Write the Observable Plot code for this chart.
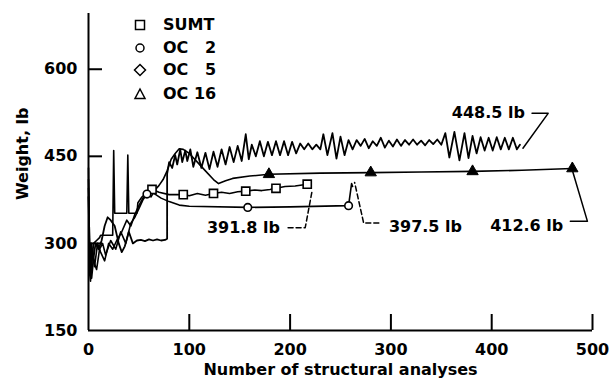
<!DOCTYPE html>
<html><head><meta charset="utf-8">
<script src="https://cdn.jsdelivr.net/npm/d3@7"></script>
<script src="https://cdn.jsdelivr.net/npm/@observablehq/plot@0.6"></script>
<style>
html,body{margin:0;padding:0;background:#fff;}
#chart{position:relative;width:611px;height:382px;overflow:hidden;font-family:"DejaVu Sans",sans-serif;font-weight:bold;font-size:16px;color:#000;}
#legend{position:absolute;left:128px;top:0;}
.row{position:absolute;left:0;height:22px;line-height:22px;white-space:pre;}
.row svg{position:absolute;left:4px;top:3px;}
.row span{position:absolute;left:35px;top:0;}
</style></head>
<body>
<div id="chart"><div id="legend"></div></div>
<script>
// ---- data ----
const seriesNames = ["SUMT", "OC \u20072", "OC \u20075", "OC 16"];
const xTicks = [0, 100, 200, 300, 400, 500];
const yTicks = [150, 300, 450, 600];

const sumt = [[0,395],[1,280],[2,300],[3,260],[5,300],[8,305],[11,310],[12,314],[24,314],[25,460],[26,352],[36,352],[38,352],[39,452],[40,352],[48,352],[49,370],[53,380],[58,388],[63,393],[70,388],[80,384],[94,384],[100,382],[108,386],[116,383],[124,386],[132,388],[140,386],[148,389],[156,390],[165,392],[172,391],[180,393],[186,395],[195,398],[205,399],[217,402]];
const sumtMarks = [63,94,124,156,186,217];

const oc2 = [[0,410],[1,300],[2,245],[4,290],[6,260],[9,300],[12,285],[16,270],[20,300],[24,290],[28,305],[33,320],[38,340],[42,330],[46,350],[50,365],[54,378],[58,385],[62,388],[66,385],[72,378],[80,372],[90,366],[100,364],[158,362],[200,363],[258,365],[261,403],[262,398]];
const oc2Marks = [58,158,258];

const oc5 = [[0,380],[1,300],[2,255],[3,240],[5,275],[7,300],[10,290],[13,305],[16,330],[19,345],[22,340],[26,330],[30,300],[33,285],[36,295],[40,320],[44,300],[48,305],[52,306],[56,304],[60,307],[64,305],[68,307],[72,305],[76,306],[78,308],
[78,420],[80,440],[83,430],[86,452],[88,436],[91,462],[93,440],[96,460],[98,442],[101,462],[104,432],[108,457],[112,430],[116,456],[120,428],[124,458],[128,432],[132,462],[136,436],[140,466],[144,440],[148,468],[152,442],[156,488],[159,445],[162,470],[166,450],[170,476],[174,450],[178,475],[182,452],[186,476],[190,452],[194,476],[198,452],[202,475],[206,455],[210,472],[214,462],[218,472],[222,462],[226,470],[230,462],[233,488],[237,452],[242,490],[246,446],[250,484],[254,452],[258,478],[262,462],[266,478],[270,468],[274,480],[278,464],[282,476],[286,468],[290,482],[294,465],[298,477],[302,467],[306,479],[310,468],[314,478],[318,470],[322,479],[326,470],[330,477],[334,469],[338,478],[342,471],[346,479],[350,470],[354,490],[358,448],[363,492],[368,443],[373,490],[377,447],[381,485],[385,455],[389,483],[393,460],[397,482],[401,460],[405,483],[409,462],[413,482],[417,462],[421,482],[425,462],[428,470]];

const oc16 = [[0,430],[1,250],[2,235],[3,300],[5,270],[8,255],[11,290],[14,300],[17,280],[22,305],[27,290],[32,320],[37,300],[42,335],[46,345],[50,360],[54,375],[58,385],[62,380],[66,392],[70,400],[74,410],[78,425],[82,445],[86,455],[90,463],[94,462],[100,455],[108,440],[116,425],[124,410],[129,403],[136,408],[143,412],[160,416],[179,419],[230,421],[280,422],[330,423],[381,424],[430,426],[480,429]];
const oc16Marks = [179,280,381,480];

const noteText = ["391.8 lb", "397.5 lb", "412.6 lb", "448.5 lb"];
const noteX = [190, 298, 471, 433];
const noteY = [326, 328, 331, 524];
const noteAnchor = ["end", "start", "end", "end"];
const leaders = [
  [[198,327],[215,327],[222,392]],
  [[288,335],[273,335],[264,405]],
  [[478,338],[495,338],[480,426]],
  [[440,524],[456,524],[431,464]]
];
const leaderDash = ["5,3", "5,3", null, null];

// ---- chart ----
const X = d => d[0], Y = d => d[1];
const pick = (arr, xs) => arr.filter(d => xs.includes(d[0]));
const notes = noteText.map((t, i) => ({t, x: noteX[i], y: noteY[i], a: noteAnchor[i]}));

const marks = [
  Plot.ruleX([0], {strokeWidth: 2}),
  Plot.ruleY([150], {strokeWidth: 2}),
  Plot.axisX({ticks: xTicks.slice(1), tickSize: 16, dy: -16, tickFormat: () => "", strokeWidth: 2, label: null}),
  Plot.axisX({ticks: xTicks, tickSize: 0, tickPadding: 13, label: null}),
  Plot.axisY({ticks: yTicks.slice(1), tickSize: 14, dx: 14, tickFormat: () => "", strokeWidth: 2, label: null}),
  Plot.axisY({ticks: yTicks, tickSize: 0, tickPadding: 11, label: null}),
  Plot.text(["Number of structural analyses"], {frameAnchor: "bottom", dy: 44, fontSize: 16}),
  Plot.text(["Weight, lb"], {frameAnchor: "left", rotate: -90, dx: -66, dy: 28, fontSize: 16}),
  Plot.line(oc16, {x: X, y: Y, strokeWidth: 1.6}),
  Plot.line(oc2, {x: X, y: Y, strokeWidth: 1.6}),
  Plot.line(sumt, {x: X, y: Y, strokeWidth: 1.6}),
  Plot.line(oc5, {x: X, y: Y, strokeWidth: 1.8}),
  Plot.dot(pick(sumt, sumtMarks), {x: X, y: Y, symbol: "square", r: 4.6, fill: "white", stroke: "black", strokeWidth: 1.6}),
  Plot.dot(pick(oc2, oc2Marks), {x: X, y: Y, symbol: "circle", r: 3.8, fill: "white", stroke: "black", strokeWidth: 1.6}),
  Plot.dot(pick(oc16, oc16Marks), {x: X, y: Y, symbol: "triangle", r: 4.2, fill: "black", stroke: "black", strokeWidth: 1}),
  ...leaders.map((l, i) => Plot.line(l, {x: X, y: Y, strokeWidth: 1.5, strokeDasharray: leaderDash[i]})),
  Plot.text(notes.filter(d => d.a === "end"), {x: "x", y: "y", text: "t", textAnchor: "end", fontSize: 16}),
  Plot.text(notes.filter(d => d.a === "start"), {x: "x", y: "y", text: "t", textAnchor: "start", fontSize: 16})
];

const plot = Plot.plot({
  width: 611, height: 382,
  marginLeft: 88, marginRight: 19, marginTop: 13, marginBottom: 52,
  x: {domain: [0, 500]},
  y: {domain: [150, 696]},
  style: {fontFamily: "DejaVu Sans", fontWeight: "bold", fontSize: "16px", background: "white", color: "black"},
  marks
});
document.getElementById("chart").prepend(plot);

// ---- legend ----
const legendShapes = [
  '<rect x="3.5" y="3.5" width="9" height="9" fill="white" stroke="black" stroke-width="1.5"/>',
  '<circle cx="8" cy="8" r="4" fill="white" stroke="black" stroke-width="1.5"/>',
  '<polygon points="8,2.5 13.5,8 8,13.5 2.5,8" fill="white" stroke="black" stroke-width="1.5"/>',
  '<polygon points="8,3 13,12.5 3,12.5" fill="white" stroke="black" stroke-width="1.5"/>'
];
const rowTops = [14, 37, 59, 83];
const legend = document.getElementById("legend");
seriesNames.forEach((n, i) => {
  const r = document.createElement("div");
  r.className = "row";
  r.style.top = rowTops[i] + "px";
  r.innerHTML = '<svg width="16" height="16">' + legendShapes[i] + '</svg><span></span>';
  r.querySelector("span").textContent = n;
  legend.appendChild(r);
});
</script>
</body></html>
